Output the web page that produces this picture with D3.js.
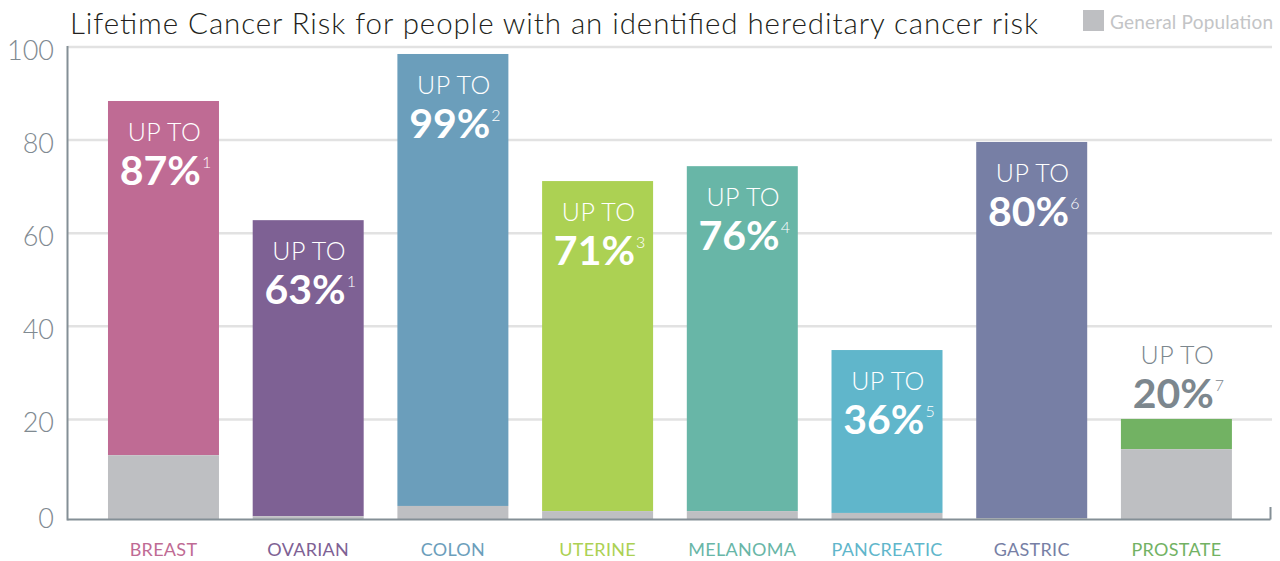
<!DOCTYPE html>
<html><head><meta charset="utf-8">
<script src="https://cdn.jsdelivr.net/npm/d3@7"></script>
<style>
body{margin:0;background:#fff;}
svg{display:block;font-family:Lato, "Open Sans", sans-serif;}
</style></head>
<body><svg id="chart" width="1280" height="561"></svg>
<script>
// ---- data ----
const categories = ["BREAST","OVARIAN","COLON","UTERINE","MELANOMA","PANCREATIC","GASTRIC","PROSTATE"];
const riskValues = [88.4, 62.8, 98.5, 71.2, 74.4, 34.9, 79.6, 20.1];      // bar tops (%)
const generalPop = [13.7, 0.6, 2.8, 1.7, 1.7, 1.3, 0.2, 15.0];          // general population (%)
const riskLabels = ["87%","63%","99%","71%","76%","36%","80%","20%"];
const footnotes = ["1","1","2","3","4","5","6","7"];
const colors = ["#bf6b94","#7e6194","#6b9ebb","#acd153","#68b6a7","#60b6cb","#777fa5","#72b263"];
const yTicks = [0,20,40,60,80,100];
const titleText = "Lifetime Cancer Risk for people with an identified hereditary cancer risk";
const legendText = "General Population";

const svg = d3.select("#chart");
const y = d3.scaleLinear().domain([0,100]).range([512.5,47]);
const x = d3.scaleBand().domain(categories).range([91.2,1248.7]).paddingInner(0.233).paddingOuter(0.116);
const left = 67.5, right = 1270.5;
const baseline = 519.5;  // axis line drawn slightly below zero
const zeroPx = y(0);

// gridlines
svg.append("g").selectAll("line").data(yTicks.filter(d=>d>0)).join("line")
  .attr("x1",left).attr("x2",1272).attr("y1",d=>y(d)).attr("y2",d=>y(d))
  .attr("stroke","#e2e2e2").attr("stroke-width",2.5);

// y tick labels
svg.append("g").selectAll("text").data(yTicks).join("text")
  .attr("x",54).attr("y",d=>d===0?baseline-2:y(d)+2)
  .attr("text-anchor","end").attr("dominant-baseline","central")
  .attr("font-size",27).attr("font-weight",300).attr("fill","#7f8a91")
  .text(d=>d);

// bars
const rows = categories.map((c,i)=>({c,i,risk:riskValues[i],gen:generalPop[i]}));
const g = svg.append("g");
rows.forEach(d=>{
  const genH = zeroPx - y(d.gen);
  const genTop = baseline - 0.5 - genH;
  g.append("rect").attr("x",x(d.c)).attr("width",x.bandwidth())
    .attr("y",y(d.risk)).attr("height",genTop - y(d.risk)).attr("fill",colors[d.i]);
  g.append("rect").attr("x",x(d.c)).attr("width",x.bandwidth())
    .attr("y",genTop).attr("height",genH).attr("fill","#bebfc2");
});

// axes lines
svg.append("line").attr("x1",left).attr("x2",left).attr("y1",46).attr("y2",baseline+1)
  .attr("stroke","#848f96").attr("stroke-width",2);
svg.append("line").attr("x1",left).attr("x2",right).attr("y1",baseline).attr("y2",baseline)
  .attr("stroke","#848f96").attr("stroke-width",2);
svg.append("line").attr("x1",right).attr("x2",right).attr("y1",507).attr("y2",baseline)
  .attr("stroke","#848f96").attr("stroke-width",2);

// category labels
svg.append("g").selectAll("text").data(rows).join("text")
  .attr("x",d=>x(d.c)+x.bandwidth()/2).attr("y",549)
  .attr("text-anchor","middle").attr("dominant-baseline","central")
  .attr("font-size",18).attr("letter-spacing",0.3).attr("fill",d=>colors[d.i]).text(d=>d.c);

// value labels
rows.forEach(d=>{
  const inside = d.risk > 30;
  const top = y(d.risk);
  const cx = x(d.c)+x.bandwidth()/2 + 1;
  const col = inside ? "#ffffff" : "#7c878e";
  const upY = inside ? top+30 : top-65;
  const pY = inside ? top+70 : top-25;
  svg.append("text").attr("x",cx).attr("y",upY).attr("text-anchor","middle")
    .attr("dominant-baseline","central").attr("font-size",25).attr("font-weight",300)
    .attr("letter-spacing",0.5).attr("fill",col).text("UP TO");
  const t = svg.append("text").attr("x",cx+1).attr("y",pY+14).attr("text-anchor","middle")
    .attr("fill",col);
  t.append("tspan").attr("font-size",41).attr("font-weight",700).text(riskLabels[d.i]);
  t.append("tspan").attr("font-size",16).attr("font-weight",300).attr("dx",1).attr("dy",-17).text(footnotes[d.i]);
});

// title
svg.append("text").attr("x",70).attr("y",22).attr("dominant-baseline","central")
  .attr("font-size",29.5).attr("font-weight",300).attr("fill","#231f20")
  .attr("textLength",968).attr("lengthAdjust","spacing").text(titleText);

// legend
svg.append("rect").attr("x",1083).attr("y",10).attr("width",21).attr("height",21).attr("fill","#bebfc2");
svg.append("text").attr("x",1110).attr("y",21).attr("dominant-baseline","central")
  .attr("font-size",19).attr("font-weight",400).attr("fill","#c3c4c6")
  .attr("textLength",163).attr("lengthAdjust","spacing").text(legendText);
</script></body></html>
